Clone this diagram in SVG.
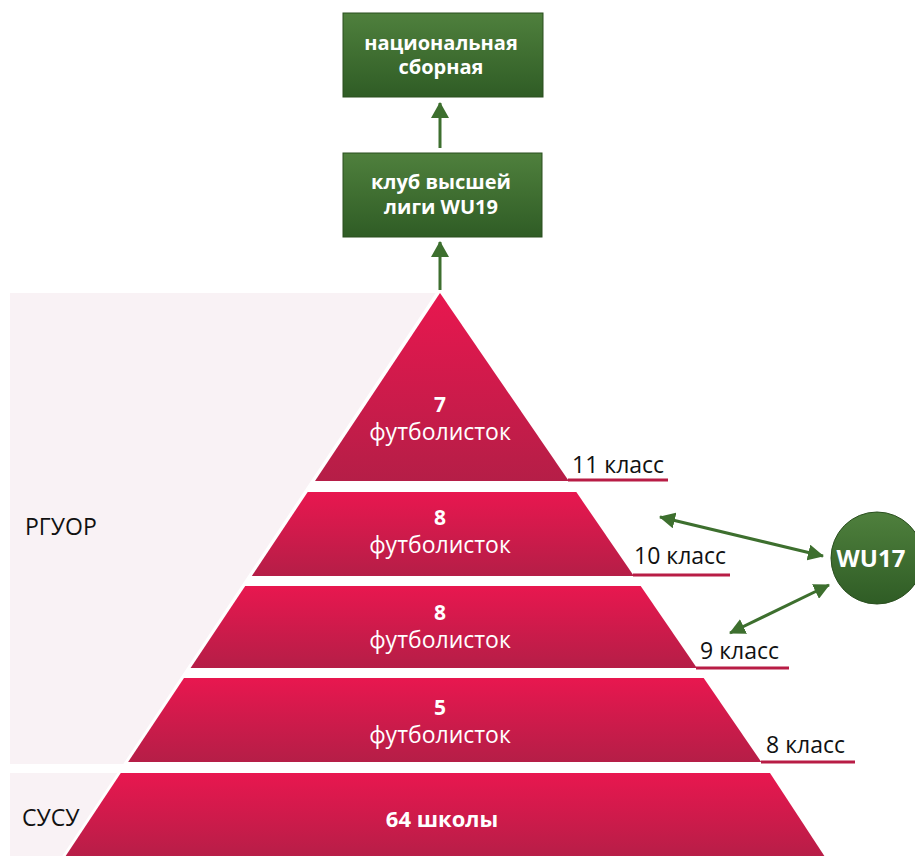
<svg xmlns="http://www.w3.org/2000/svg" width="915" height="856" viewBox="0 0 915 856">
<defs>
<linearGradient id="tier" x1="0" y1="0" x2="0" y2="1">
<stop offset="0" stop-color="#e8174f"/>
<stop offset="1" stop-color="#b51e47"/>
</linearGradient>
<linearGradient id="green" x1="0" y1="0" x2="0" y2="1">
<stop offset="0" stop-color="#4f803d"/>
<stop offset="1" stop-color="#2f5c25"/>
</linearGradient>
<marker id="ah" viewBox="0 0 16 16" markerUnits="userSpaceOnUse" markerWidth="16" markerHeight="16" refX="15" refY="8" orient="auto-start-reverse">
<path d="M0,0 L16,8 L0,16 z" fill="#3d6f2e"/>
</marker>
<marker id="av" viewBox="0 0 16 18" markerUnits="userSpaceOnUse" markerWidth="16" markerHeight="18" refX="15" refY="9" orient="auto">
<path d="M0,0 L16,9 L0,18 z" fill="#3d6f2e"/>
</marker>
<style>
.tier{fill:url(#tier);}
.box{fill:url(#green);stroke:#2a4f1f;stroke-width:1;}
.wt{font-family:"Open Sans","Noto Sans",sans-serif;fill:#ffffff;text-anchor:middle;}
.b{font-weight:bold;}
.num{font-size:21px;font-weight:bold;}
.ft{font-size:23px;}
.lbl{font-family:"Open Sans","Noto Sans",sans-serif;fill:#111111;font-size:23px;}
.ul{stroke:#b81c45;stroke-width:3;}
.conn{stroke:#3d6f2e;stroke-width:3;fill:none;}
</style>
</defs>
<rect width="915" height="856" fill="#ffffff"/>
<g id="bg">
<rect x="10" y="293" width="430" height="471" fill="#f9f2f5"/>
<rect x="10" y="773" width="200" height="83" fill="#f9f2f5"/>
<polygon points="440,290 62,860 830,860" fill="#ffffff" stroke="#ffffff" stroke-width="4"/>
</g>
<g id="connectors">
<line class="conn" x1="440" y1="148" x2="440" y2="103" marker-end="url(#av)"/>
<line class="conn" x1="440" y1="290" x2="440" y2="242" marker-end="url(#av)"/>
<line class="conn" x1="660" y1="517" x2="823" y2="556" marker-start="url(#ah)" marker-end="url(#ah)"/>
<line class="conn" x1="730" y1="633" x2="829" y2="585" marker-start="url(#ah)" marker-end="url(#ah)"/>
</g>
<g id="national-team">
<rect class="box" x="343" y="13" width="200" height="84"/>
<text class="wt b" x="441" y="50" font-size="20">национальная</text>
<text class="wt b" x="441" y="74" font-size="20">сборная</text>
</g>
<g id="club-wu19">
<rect class="box" x="343" y="153" width="199" height="84"/>
<text class="wt b" x="441" y="189" font-size="20">клуб высшей</text>
<text class="wt b" x="441" y="214" font-size="20">лиги WU19</text>
</g>
<g id="tier-11">
<polygon class="tier" points="440,293 568.8,481 315,481"/>
<text class="wt num" x="440" y="412">7</text>
<text class="wt ft" x="440" y="440">футболисток</text>
<line class="ul" x1="568" y1="480" x2="668" y2="480"/>
<text class="lbl" x="572" y="473">11 класс</text>
</g>
<g id="tier-10">
<polygon class="tier" points="307.7,492 576.3,492 633.9,576 251.8,576"/>
<text class="wt num" x="440" y="525">8</text>
<text class="wt ft" x="440" y="553">футболисток</text>
<line class="ul" x1="633" y1="575" x2="730" y2="575"/>
<text class="lbl" x="634" y="564">10 класс</text>
</g>
<g id="tier-9">
<polygon class="tier" points="245.2,586 640.7,586 696.9,668 190.6,668"/>
<text class="wt num" x="440" y="620">8</text>
<text class="wt ft" x="440" y="648">футболисток</text>
<line class="ul" x1="696" y1="668" x2="789" y2="668"/>
<text class="lbl" x="700" y="659">9 класс</text>
</g>
<g id="tier-8">
<polygon class="tier" points="184,678 703.7,678 761.3,762 128.1,762"/>
<text class="wt num" x="440" y="715">5</text>
<text class="wt ft" x="440" y="743">футболисток</text>
<line class="ul" x1="761" y1="762" x2="855" y2="762"/>
<text class="lbl" x="766" y="753">8 класс</text>
</g>
<g id="schools">
<polygon class="tier" points="120.8,773 770,773 827,860 63,860"/>
<text class="wt b" x="442" y="827" font-size="22">64 школы</text>
</g>
<g id="wu17">
<circle cx="877" cy="558" r="46" fill="url(#green)" stroke="#2a4f1f" stroke-width="1"/>
<text class="wt b" x="871" y="567" font-size="24">WU17</text>
</g>
<g id="side-labels">
<text class="lbl" x="25" y="535" font-size="22">РГУОР</text>
<text class="lbl" x="22" y="826" font-size="21">СУСУ</text>
</g>
</svg>
